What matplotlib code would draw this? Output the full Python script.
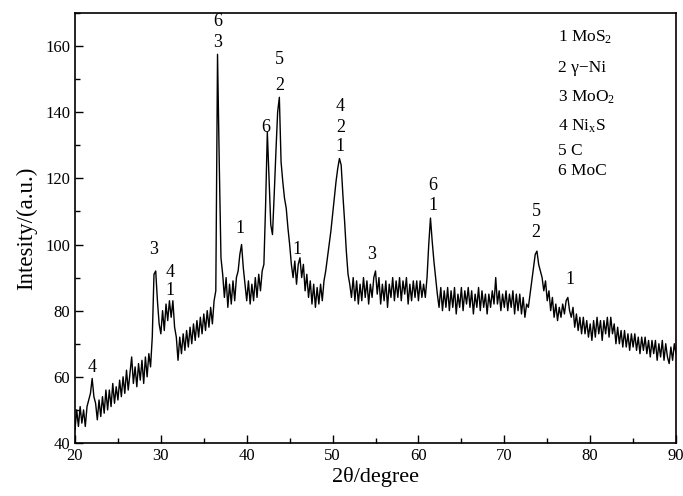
import numpy as np
import matplotlib
matplotlib.use("Agg")
import matplotlib.pyplot as plt
from matplotlib.ticker import MultipleLocator

plt.rcParams['font.family'] = ['Liberation Serif', 'DejaVu Serif']
plt.rcParams['mathtext.fontset'] = 'custom'
plt.rcParams['mathtext.rm'] = 'Liberation Serif'
plt.rcParams['mathtext.it'] = 'Liberation Serif:italic'

# ---------------------------
# XRD scan (0.2 deg step)
# ---------------------------
scan_start = 20.0
scan_step = 0.2

int_20_30 = [44, 50, 45, 51, 46, 50, 45, 51, 53, 55,
             59.5, 54, 52, 47, 53, 48, 54, 49, 56, 50,
             56, 51, 58, 52, 57, 53, 59, 54, 60, 55,
             62, 56, 61, 66, 58, 63, 57, 64, 59, 65,
             58, 66, 60, 67, 63, 72, 91, 92, 83, 76]
int_30_40 = [73, 80, 74, 82, 77, 83, 78, 83, 75, 72,
             65, 72, 67, 73, 68, 74, 69, 75, 70, 76,
             71, 77, 72, 78, 73, 79, 74, 80, 75, 81,
             76, 83, 86, 157.5, 125, 96, 91, 84, 90, 81,
             88, 82, 89, 83, 90, 92, 97, 100, 93, 88]
int_40_50 = [83, 89, 82, 88, 83, 90, 84, 91, 86, 92,
             94, 112, 134, 120, 106, 103, 115, 128, 140, 144.5,
             125, 119, 114, 111, 105, 100, 94, 90, 95, 88,
             94, 96, 90, 94, 86, 91, 84, 89, 82, 88,
             81, 87, 82, 88, 83, 89, 92, 96, 100, 104]
int_50_60 = [109, 114, 119, 123, 126, 124, 115, 107, 98, 91,
             88, 84, 90, 83, 89, 82, 88, 83, 90, 84,
             89, 82, 88, 84, 90, 92, 85, 90, 82, 88,
             83, 89, 81, 88, 84, 90, 83, 89, 84, 90,
             83, 89, 85, 90, 82, 88, 83, 89, 84, 89]
int_60_70 = [83, 89, 84, 88, 84, 90, 100, 108, 101, 95,
             90, 85, 81, 87, 80, 86, 81, 87, 80, 86,
             81, 87, 79, 85, 81, 87, 80, 86, 82, 87,
             81, 86, 79, 85, 81, 87, 80, 86, 81, 85,
             79, 85, 81, 86, 82, 90, 82, 86, 80, 85]
int_70_80 = [81, 86, 80, 85, 81, 86, 79, 85, 80, 85,
             79, 84, 78, 82, 81, 85, 89, 93, 97, 98,
             94, 92, 90, 86, 89, 83, 86, 80, 84, 78,
             82, 77, 81, 78, 82, 79, 83, 84, 80, 78,
             81, 75, 79, 74, 78, 73, 78, 73, 77, 72]
int_80_90 = [76, 71, 77, 72, 78, 73, 77, 71, 77, 73,
             78, 72, 78, 73, 76, 70, 75, 70, 74, 69,
             74, 69, 73, 68, 73, 69, 73, 68, 72, 67,
             72, 68, 72, 67, 71, 66, 71, 67, 71, 65,
             70, 66, 71, 65, 70, 66, 64, 69, 65, 70,
             67]

# peak labels: (2theta, intensity, text)
peak_pos = [22.0, 29.1, 31.1, 31.1, 36.57, 36.57, 39.25, 42.2, 43.8, 43.8,
            45.8, 50.9, 50.9, 50.9, 54.5, 61.7, 61.7, 73.7, 73.7, 77.6]
peak_h = [62.7, 98.5, 91.5, 86, 167.3, 161.2, 104.8, 135.5, 155.8, 148.2,
          98.5, 141.8, 135.5, 129.7, 97, 117.9, 111.8, 110, 103.6, 89.4]
peak_txt = ["4", "3", "4", "1", "6", "3", "1", "6", "5", "2",
            "1", "4", "2", "1", "3", "6", "1", "5", "2", "1"]

phases = ["1 MoS$_2$", "2 \u03b3\u2212Ni", "3 MoO$_2$",
          "4 Ni$_\\mathrm{x}$S", "5 C", "6 MoC"]
phase_y = [162.7, 153.3, 144.5, 135.8, 128.2, 122.1]

intensity = np.array(int_20_30 + int_30_40 + int_40_50 + int_50_60
                     + int_60_70 + int_70_80 + int_80_90, dtype=float)
two_theta = scan_start + scan_step * np.arange(len(intensity))

# ---------------------------
# Plot
# ---------------------------
fig = plt.figure(figsize=(6.83, 4.96), dpi=100)
ax = fig.add_axes([0.1098, 0.1069, 0.88, 0.867])

ax.plot(two_theta, intensity, color="black", lw=1.0)

for x, y, t in zip(peak_pos, peak_h, peak_txt):
    ax.text(x, y, t, ha="center", va="center", fontsize=13)

for t, y in zip(phases, phase_y):
    ax.text(76.2, y, t, ha="left", va="center", fontsize=12.5)

ax.set_xlim(20, 90)
ax.set_ylim(40, 170)
ax.xaxis.set_major_locator(MultipleLocator(10))
ax.xaxis.set_minor_locator(MultipleLocator(5))
ax.yaxis.set_major_locator(MultipleLocator(20))
ax.yaxis.set_minor_locator(MultipleLocator(10))
ax.tick_params(which="both", direction="in", top=False, right=False, labelsize=12)
ax.tick_params(which="major", length=6, width=1)
ax.tick_params(which="minor", length=3.5, width=1)
ax.set_yticks([40, 60, 80, 100, 120, 140, 160])

for s in ax.spines.values():
    s.set_linewidth(1.2)

ax.set_xlabel("2\u03b8/degree", fontsize=16, labelpad=2)
ax.set_ylabel("Intesity/(a.u.)", fontsize=16.5, labelpad=6)

plt.savefig("out.png", dpi=100)
